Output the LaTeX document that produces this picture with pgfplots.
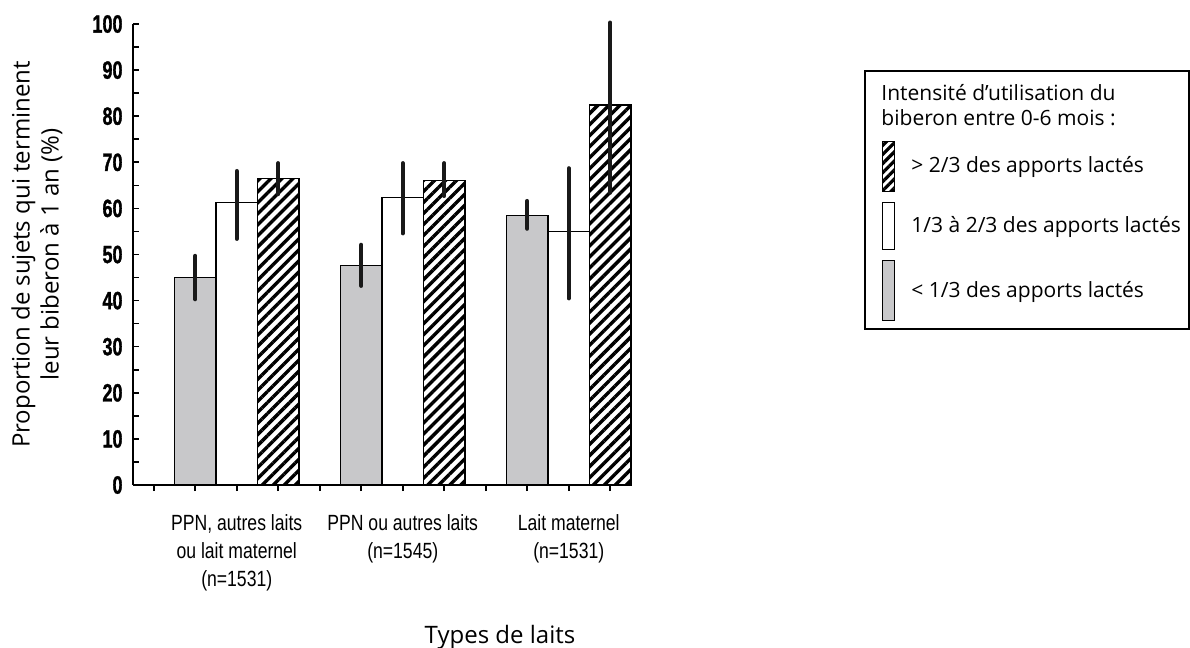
\documentclass[border=0pt]{standalone}
\usepackage{pgfplots}
\pgfplotsset{compat=1.18}
\usepackage{pgfplotstable}
\usepackage{fontspec}
\usetikzlibrary{patterns.meta}
\setmainfont{Open Sans}
\newfontfamily\condfont[FakeStretch=0.72,BoldFeatures={FakeBold=1.2}]{Liberation Sans}
\newfontfamily\labfont[FakeStretch=0.8]{Liberation Sans}
\definecolor{bargray}{RGB}{200,200,202}

\pgfplotstableread{
x y ep em
1 45.0 4.7 4.7
5 47.6 4.5 4.4
9 58.4 3.2 2.8
}\lowdata
\pgfplotstableread{
x y ep em
2 61.3 6.8 7.9
6 62.3 7.5 7.7
10 55.0 13.7 14.5
}\middata
\pgfplotstableread{
x y ep em
3 66.5 3.3 3.4
7 66.0 3.8 3.3
11 82.4 17.9 19.0
}\highdata

\begin{document}
\begin{tikzpicture}
\useasboundingbox (-66.5pt,-81.5pt) rectangle (528.5pt,242.5pt);
\begin{axis}[
  at={(0pt,0pt)}, anchor=south west,
  scale only axis, width=249pt, height=230.5pt,
  xmin=-0.5, xmax=11.5, ymin=0, ymax=100,
  clip=false,
  axis x line*=bottom, axis y line*=left,
  axis line style={line width=0.9pt, -},
  tick align=inside,
  major tick length=3pt, minor tick length=3pt,
  every tick/.style={black, line width=0.8pt},
  xtick={0,...,11},
  xticklabels={,,{PPN, autres laits\\ou lait maternel\\(n=1531)},,,,{PPN ou autres laits\\(n=1545)},,,,{Lait maternel\\(n=1531)},},
  xticklabel style={align=center, font=\labfont\fontsize{11}{14}\selectfont, yshift=-8pt},
  ytick={0,10,...,100},
  minor ytick={5,15,...,95},
  /pgf/number format/assume math mode=true,
  yticklabel style={font=\condfont\bfseries\fontsize{12.5}{14}\selectfont, xshift=-1.7pt},
  ylabel={Proportion de sujets qui terminent\\leur biberon à 1 an (\%)},
  ylabel style={at={(axis description cs:0,0.5)}, anchor=center, rotate=0, yshift=48pt, align=center, font=\fontsize{12}{14.5}\selectfont},
  xlabel={Types de laits},
  xlabel style={at={(axis description cs:0,0)}, anchor=base, xshift=183.5pt, yshift=-79pt, font=\fontsize{12}{14}\selectfont},
  ybar, bar width=1, bar shift=0pt,
  error bars/y dir=both, error bars/y explicit,
  error bars/error mark=none,
  error bars/error bar style={line width=2.1pt, line cap=round, black!90},
  legend cell align=left,
  legend style={at={(axis description cs:1.468,0.900)}, anchor=north west,
    draw=black, line width=0.8pt, font=\fontsize{10.5}{12.5}\selectfont,
    row sep=5pt, inner xsep=2pt, inner ysep=4pt,
    nodes={inner sep=2pt}},
]
\addplot[fill=bargray, draw=black, line width=0.7pt, forget plot]
  table[x=x, y=y, y error plus=ep, y error minus=em]{\lowdata};
\addplot[fill=white, draw=black, line width=0.7pt, forget plot]
  table[x=x, y=y, y error plus=ep, y error minus=em]{\middata};
\addplot[pattern={Lines[angle=45,distance=3.9pt,line width=1.7pt]}, draw=black, line width=0.7pt, forget plot]
  table[x=x, y=y, y error plus=ep, y error minus=em]{\highdata};

\addlegendimage{empty legend}
\addlegendentry{\hspace*{-9pt}\begin{tabular}{@{}l@{}}Intensité d’utilisation du\\biberon entre 0-6 mois :\rule[-14pt]{0pt}{14pt}\end{tabular}}
\addlegendimage{legend image code/.code={\path[draw=none] (0pt,0pt) -- (7pt,0pt); \draw[pattern={Lines[angle=45,distance=3.2pt,line width=1.6pt]}, draw=black, line width=0.6pt] (7pt,-12.5pt) rectangle (13pt,12.5pt);}}
\addlegendentry{\hspace*{6pt}> 2/3 des apports lactés}
\addlegendimage{legend image code/.code={\path[draw=none] (0pt,0pt) -- (7pt,0pt); \draw[fill=white, draw=black, line width=0.6pt] (7pt,-11.5pt) rectangle (13pt,12pt);}}
\addlegendentry{\hspace*{6pt}1/3 à 2/3 des apports lactés}
\addlegendimage{legend image code/.code={\path[draw=none] (0pt,0pt) -- (7pt,0pt); \draw[fill=bargray, draw=black, line width=0.6pt] (7pt,-15pt) rectangle (13pt,15pt);}}
\addlegendentry{\hspace*{6pt}< 1/3 des apports lactés}
\end{axis}
\end{tikzpicture}
\end{document}
